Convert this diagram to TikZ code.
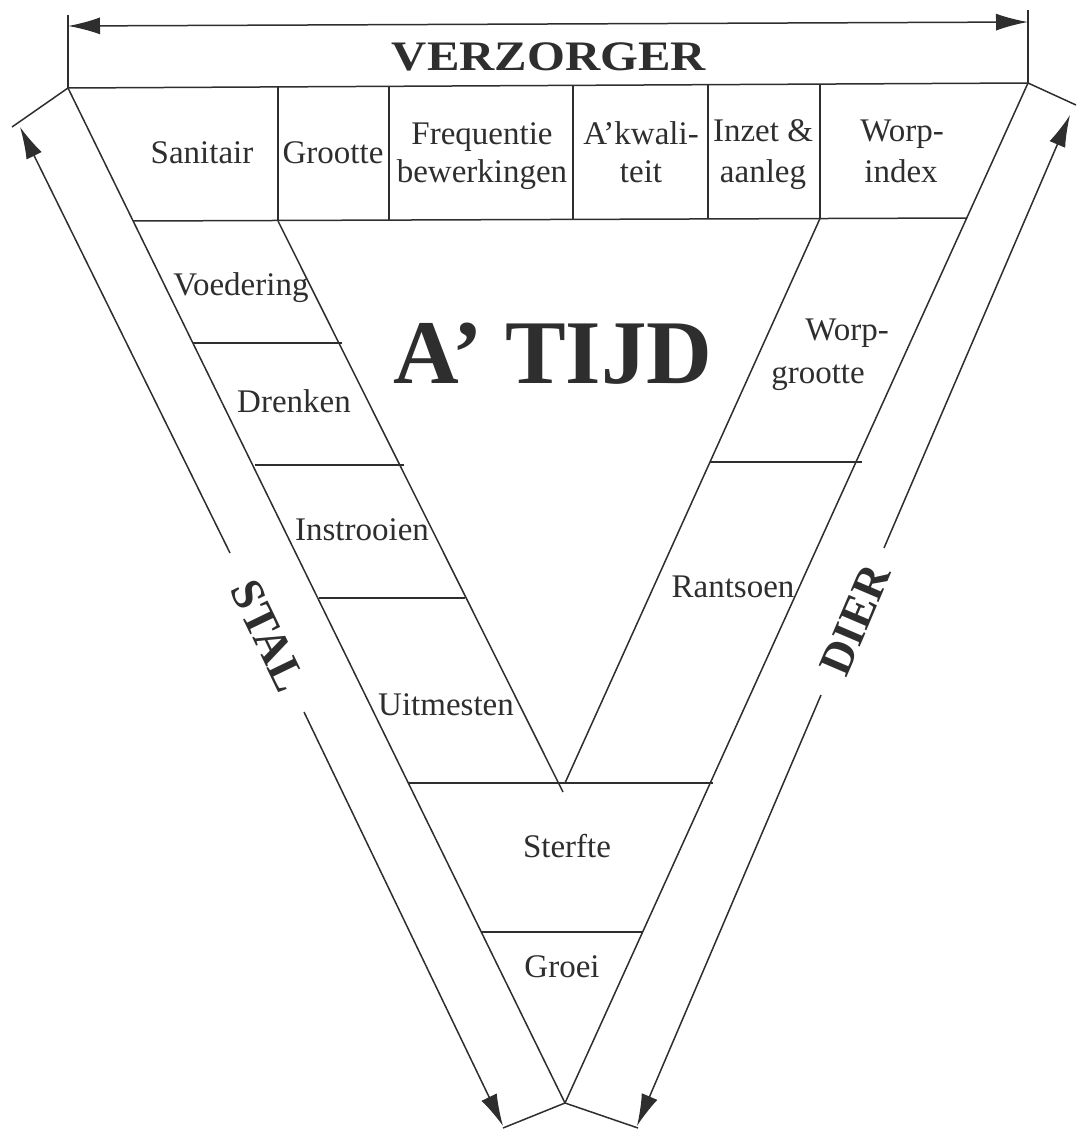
\documentclass[tikz,border=0pt]{standalone}
\usepackage{fontspec}
\setmainfont{Liberation Serif}
\usetikzlibrary{arrows.meta}
\definecolor{ink}{HTML}{2E2E2E}
\begin{document}
\begin{tikzpicture}[x=1pt,y=-1pt,
  ln/.style={draw=ink, line width=1.5pt},
  arrowtip/.style={-{Latex[length=32pt,width=17pt]}},
  lbl/.style={font=\fontsize{33}{40}\selectfont, text=ink, inner sep=0pt, anchor=base},
  bigtxt/.style={font=\bfseries\fontsize{46}{50}\selectfont, text=ink, inner sep=0pt}]
\useasboundingbox (0,0) rectangle (1076,1129);
% main corners
\coordinate (TL) at (68,88);
\coordinate (TR) at (1028,83);
\coordinate (B) at (565,1103);
\coordinate (TLt) at (68,15);
\coordinate (TRt) at (1028,10);
\coordinate (AL) at (68,26);
\coordinate (AR) at (1028,22);
% table bottom
\coordinate (TB1) at (133,221);
\coordinate (TB2) at (967,218);
% dividers
\coordinate (D1t) at (278,87);   \coordinate (D1b) at (278,221);
\coordinate (D2t) at (389,86.5); \coordinate (D2b) at (389,220.5);
\coordinate (D3t) at (573,85.5); \coordinate (D3b) at (573,219.5);
\coordinate (D4t) at (708,84.5); \coordinate (D4b) at (708,219);
\coordinate (D5t) at (820,84);   \coordinate (D5b) at (820,218.5);
% inner lines
\coordinate (LIe) at (563,792);
\coordinate (RIe) at (565,783);
% left strip rungs
\coordinate (L1a) at (193,343); \coordinate (L1b) at (342,343);
\coordinate (L2a) at (255,465); \coordinate (L2b) at (404,465);
\coordinate (L3a) at (319,598); \coordinate (L3b) at (465,598);
% bottom rungs
\coordinate (M1a) at (408,783); \coordinate (M1b) at (713,783);
\coordinate (M2a) at (481,932); \coordinate (M2b) at (643,932);
% right strip rung
\coordinate (R1a) at (710,462); \coordinate (R1b) at (862,462);
% arrows
\coordinate (CapL) at (12,127);
\coordinate (CapR) at (1076,105);
\coordinate (CapBL) at (503,1128);
\coordinate (CapBR) at (638,1128);
\coordinate (S1) at (230,553); \coordinate (S1tip) at (20,127);
\coordinate (S2) at (304,712); \coordinate (S2tip) at (503,1126);
\coordinate (Q1) at (884,548); \coordinate (Q1tip) at (1070,115);
\coordinate (Q2) at (821,695); \coordinate (Q2tip) at (637,1126);

% frame
\draw[ln] (TLt) -- (TL);
\draw[ln] (TRt) -- (TR);
\draw[ln, {Latex[length=32pt,width=17pt]}-{Latex[length=32pt,width=17pt]}] (AL) -- (AR);
\draw[ln] (TL) -- (TR);
\draw[ln] (TL) -- (B);
\draw[ln] (TR) -- (B);
\draw[ln] (TB1) -- (TB2);
\draw[ln] (D1t) -- (D1b);
\draw[ln] (D2t) -- (D2b);
\draw[ln] (D3t) -- (D3b);
\draw[ln] (D4t) -- (D4b);
\draw[ln] (D5t) -- (D5b);
\draw[ln] (D1b) -- (LIe);
\draw[ln] (D5b) -- (RIe);
\draw[ln] (L1a) -- (L1b);
\draw[ln] (L2a) -- (L2b);
\draw[ln] (L3a) -- (L3b);
\draw[ln] (M1a) -- (M1b);
\draw[ln] (M2a) -- (M2b);
\draw[ln] (R1a) -- (R1b);
% side arrows
\draw[ln] (TL) -- (CapL);
\draw[ln] (TR) -- (CapR);
\draw[ln] (B) -- (CapBL);
\draw[ln] (B) -- (CapBR);
\draw[ln, arrowtip] (S1) -- (S1tip);
\draw[ln, arrowtip] (S2) -- (S2tip);
\draw[ln, arrowtip] (Q1) -- (Q1tip);
\draw[ln, arrowtip] (Q2) -- (Q2tip);

% titles
\node[bigtxt, font=\bfseries\fontsize{42}{45}\selectfont, anchor=base, xscale=1.16] (verz) at (549,71) {VERZORGER};
\node[bigtxt, font=\bfseries\fontsize{91}{92}\selectfont, anchor=base] (tijd) at (553,383) {A’ TIJD};
\node[bigtxt, rotate=-64.2] (stal) at (268,636) {STAL};
\node[bigtxt, rotate=66.9] (dier) at (855,620) {DIER};

% table texts
\node[lbl] (san) at (202,163) {Sanitair};
\node[lbl] (gro) at (333,163) {Grootte};
\node[lbl] (fr1) at (482,145) {Frequentie};
\node[lbl] (fr2) at (482,182) {bewerkingen};
\node[lbl] (ak1) at (641,145) {A’kwali-};
\node[lbl] (ak2) at (641,182) {teit};
\node[lbl] (in1) at (763,142) {Inzet \&};
\node[lbl] (in2) at (763,182) {aanleg};
\node[lbl] (wi1) at (902,142) {Worp-};
\node[lbl] (wi2) at (901,182) {index};

% left strip
\node[lbl] (voe) at (241,295) {Voedering};
\node[lbl] (dre) at (294,412) {Drenken};
\node[lbl] (ins) at (362,540) {Instrooien};
\node[lbl] (uit) at (446,715) {Uitmesten};
% bottom
\node[lbl] (ste) at (567,857) {Sterfte};
\node[lbl] (gre) at (562,977) {Groei};
% right strip
\node[lbl] (wg1) at (847,340) {Worp-};
\node[lbl] (wg2) at (818,383) {grootte};
\node[lbl] (ran) at (733,597) {Rantsoen};
\end{tikzpicture}
\end{document}
